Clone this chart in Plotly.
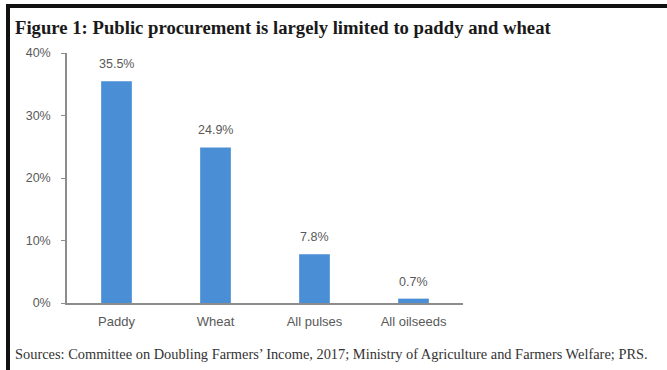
import plotly.graph_objects as go

categories = ["Paddy", "Wheat", "All pulses", "All oilseeds"]
values = [35.5, 24.9, 7.8, 0.7]
value_labels = ["35.5%", "24.9%", "7.8%", "0.7%"]
tick_vals = [0, 10, 20, 30, 40]
tick_text = ["0%", "10%", "20%", "30%", "40%"]

title_text = "Figure 1: Public procurement is largely limited to paddy and wheat"
source_text = ("Sources: Committee on Doubling Farmers\u2019 Income, 2017; Ministry of Agriculture "
               "and Farmers Welfare; PRS.")

L, R, T, B = 67, 204, 53, 67
W, H = 667, 370
pw, ph = W - L - R, H - T - B

def px_x(px):
    return (px - L) / pw

def px_y(py):
    return (H - B - py) / ph

fig = go.Figure(go.Bar(
    x=categories, y=values,
    marker=dict(color="#4a8fd6", line=dict(width=0)),
    width=0.31,
))

for c, v, t in zip(categories, values, value_labels):
    fig.add_annotation(x=c, y=v, text=t, showarrow=False, yanchor="bottom", yshift=8,
                       font=dict(family="Liberation Sans, Arial", size=12.5, color="#595959"))

fig.add_annotation(xref="paper", yref="paper", x=px_x(13), y=px_y(28), xanchor="left",
                   yanchor="middle", showarrow=False, text="<b>" + title_text + "</b>",
                   font=dict(family="Liberation Serif, Times New Roman", size=18.7, color="#1a1a1a"))
fig.add_annotation(xref="paper", yref="paper", x=px_x(13), y=px_y(354), xanchor="left",
                   yanchor="middle", showarrow=False, text=source_text,
                   font=dict(family="Liberation Serif, Times New Roman", size=14.4, color="#333333"))

# frame lines (top and left)
fig.add_shape(type="line", xref="paper", yref="paper", x0=px_x(6), x1=px_x(680),
              y0=px_y(6), y1=px_y(6), line=dict(color="#111111", width=4))
fig.add_shape(type="line", xref="paper", yref="paper", x0=px_x(8), x1=px_x(8),
              y0=px_y(4), y1=px_y(380), line=dict(color="#111111", width=4))

fig.update_layout(
    width=W, height=H,
    margin=dict(l=L, r=R, t=T, b=B),
    paper_bgcolor="white", plot_bgcolor="white",
    showlegend=False,
    bargap=0.69,
)
fig.update_xaxes(showline=True, linecolor="#8c8c8c", linewidth=1.5, ticks="",
                 ticklabelstandoff=6,
                 tickfont=dict(family="Liberation Sans, Arial", size=13, color="#595959"),
                 showgrid=False)
fig.update_yaxes(range=[0, 40], tickvals=tick_vals, ticktext=tick_text, showline=True,
                 linecolor="#8c8c8c", linewidth=1.5, ticks="outside", ticklen=4,
                 tickcolor="#8c8c8c", showgrid=False, zeroline=False, ticklabelstandoff=8,
                 tickfont=dict(family="Liberation Sans, Arial", size=12.5, color="#595959"))

fig.write_html("out.html")
